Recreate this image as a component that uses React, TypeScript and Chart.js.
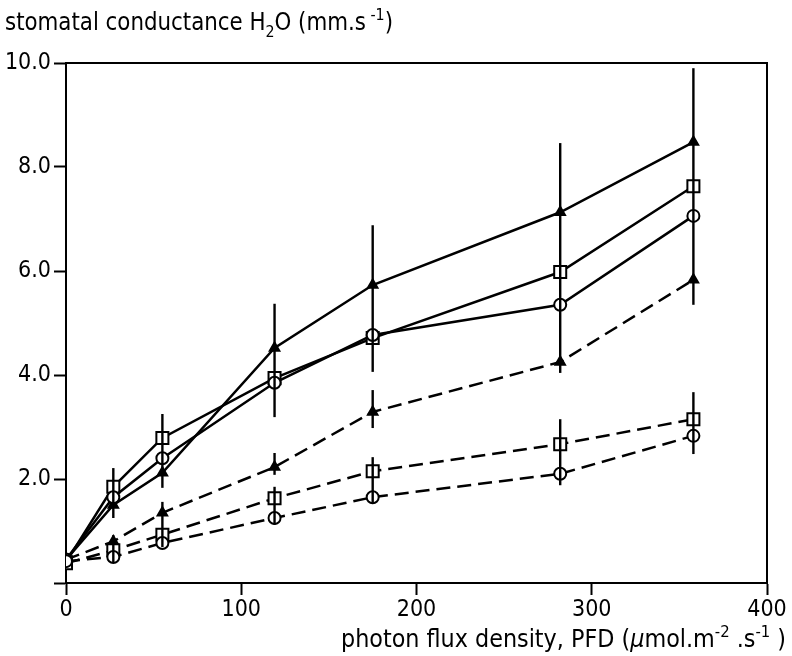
import React, { useEffect, useRef } from "react";
import { Chart, registerables } from "chart.js";

Chart.register(...registerables);

const X_VALUES = [0, 27, 55, 119, 175, 282, 358];
const SOLID_TRIANGLE = [0.45, 1.5, 2.12, 4.52, 5.73, 7.13, 8.48];
const SOLID_SQUARE = [0.4, 1.85, 2.79, 3.94, 4.71, 5.98, 7.63];
const SOLID_CIRCLE = [0.45, 1.65, 2.4, 3.85, 4.77, 5.35, 7.06];
const DASHED_TRIANGLE = [0.45, 0.8, 1.35, 2.23, 3.29, 4.25, 5.83];
const DASHED_SQUARE = [0.38, 0.63, 0.93, 1.63, 2.15, 2.67, 3.15];
const DASHED_CIRCLE = [0.42, 0.5, 0.77, 1.25, 1.65, 2.1, 2.83];

const ERR_X = [27, 27, 55, 55, 119, 119, 119, 175, 175, 175, 282, 282, 358, 358];
const ERR_LOW = [1.25, 0.4, 1.83, 0.69, 3.19, 2.08, 1.12, 4.06, 2.98, 1.54, 4.04, 1.88, 5.35, 2.48];
const ERR_HIGH = [2.21, 0.92, 3.25, 1.56, 5.37, 2.5, 1.85, 6.88, 3.71, 2.42, 8.46, 3.15, 9.9, 3.67];

const X_TICKS = [0, 100, 200, 300, 400];
const Y_TICKS = [0, 2, 4, 6, 8, 10];

const Y_TITLE = [
  { t: "stomatal conductance H", k: "n" },
  { t: "2", k: "sub" },
  { t: "O (mm.s", k: "n" },
  { t: " -1", k: "sup" },
  { t: ")", k: "n" },
];
const X_TITLE = [
  { t: "photon flux density, PFD (", k: "n" },
  { t: "\u00b5", k: "it" },
  { t: "mol.m", k: "n" },
  { t: "-2", k: "sup" },
  { t: " .s", k: "n" },
  { t: "-1", k: "sup" },
  { t: " )", k: "n" },
];

const FONT = "'DejaVu Sans Condensed', 'DejaVu Sans', sans-serif";

function pts(ys: number[]) {
  return X_VALUES.map((x, i) => ({ x, y: ys[i] }));
}

type Part = { t: string; k: string };

function drawRich(ctx: CanvasRenderingContext2D, parts: Part[], x0: number, x1: number, baseline: number, size: number) {
  const small = Math.round(size * 0.68);
  const fontFor = (k: string) =>
    k === "sub" || k === "sup" ? `${small}px ${FONT}` : k === "it" ? `italic ${size}px ${FONT}` : `${size}px ${FONT}`;
  let total = 0;
  for (const p of parts) {
    ctx.font = fontFor(p.k);
    total += ctx.measureText(p.t).width;
  }
  const sx = (x1 - x0) / total;
  ctx.save();
  ctx.translate(x0, baseline);
  ctx.scale(sx, 1);
  ctx.fillStyle = "#000";
  ctx.textBaseline = "alphabetic";
  ctx.textAlign = "left";
  let cx = 0;
  for (const p of parts) {
    ctx.font = fontFor(p.k);
    const dy = p.k === "sub" ? size * 0.28 : p.k === "sup" ? -size * 0.42 : 0;
    ctx.fillText(p.t, cx, dy);
    cx += ctx.measureText(p.t).width;
  }
  ctx.restore();
}

const decorPlugin = {
  id: "decor",
  afterDatasetsDraw(chart: any) {
    const { ctx, scales } = chart;
    const xs = scales.x;
    const ys = scales.y;
    ctx.save();
    ctx.strokeStyle = "#000";
    ctx.lineWidth = 2.4;
    for (let i = 0; i < ERR_X.length; i++) {
      const px = xs.getPixelForValue(ERR_X[i]);
      ctx.beginPath();
      ctx.moveTo(px, ys.getPixelForValue(ERR_LOW[i]));
      ctx.lineTo(px, ys.getPixelForValue(ERR_HIGH[i]));
      ctx.stroke();
    }
    ctx.restore();
  },
  afterDraw(chart: any) {
    const { ctx, chartArea } = chart;
    ctx.save();
    ctx.strokeStyle = "#000";
    ctx.lineWidth = 2;
    ctx.beginPath();
    ctx.moveTo(chartArea.left, chartArea.top);
    ctx.lineTo(chartArea.right, chartArea.top);
    ctx.lineTo(chartArea.right, chartArea.bottom);
    ctx.stroke();
    drawRich(ctx, Y_TITLE, 5, 393, 30, 24);
    drawRich(ctx, X_TITLE, 341, 786, 647, 24);
    ctx.restore();
  },
};

export default function App() {
  const ref = useRef<HTMLCanvasElement | null>(null);
  useEffect(() => {
    if (!ref.current) return;
    const solid = { borderColor: "#000", borderWidth: 2.5, showLine: true, pointBorderColor: "#000", pointBorderWidth: 2 };
    const dashed = { ...solid, borderDash: [14, 7] };
    const chart = new Chart(ref.current, {
      type: "scatter",
      data: {
        datasets: [
          { ...dashed, data: pts(DASHED_CIRCLE), pointStyle: "circle", pointRadius: 6, pointBackgroundColor: "#fff" },
          { ...dashed, data: pts(DASHED_SQUARE), pointStyle: "rect", pointRadius: 8.5, pointBackgroundColor: "#fff" },
          { ...dashed, data: pts(DASHED_TRIANGLE), pointStyle: "triangle", pointRadius: 5.5, pointBackgroundColor: "#000" },
          { ...solid, data: pts(SOLID_CIRCLE), pointStyle: "circle", pointRadius: 6, pointBackgroundColor: "#fff" },
          { ...solid, data: pts(SOLID_SQUARE), pointStyle: "rect", pointRadius: 8.5, pointBackgroundColor: "#fff" },
          { ...solid, data: pts(SOLID_TRIANGLE), pointStyle: "triangle", pointRadius: 5.5, pointBackgroundColor: "#000" },
        ] as any,
      },
      options: {
        animation: false,
        responsive: false,
        devicePixelRatio: 1,
        layout: { padding: { top: 63, right: 25, left: 0, bottom: 0 } },
        plugins: { legend: { display: false }, tooltip: { enabled: false } },
        scales: {
          x: {
            type: "linear",
            min: 0,
            max: 400,
            afterBuildTicks: (s: any) => { s.ticks = X_TICKS.map((v) => ({ value: v })); },
            afterFit: (s: any) => { s.height = 73; },
            border: { display: true, color: "#000", width: 2 },
            grid: { display: true, drawOnChartArea: false, drawTicks: true, tickLength: 12, tickColor: "#000", tickWidth: 2 },
            ticks: { color: "#000", font: { family: FONT, size: 23 }, padding: 1, maxRotation: 0, callback: (v: any) => String(v) },
          },
          y: {
            type: "linear",
            min: 0,
            max: 10,
            afterBuildTicks: (s: any) => { s.ticks = Y_TICKS.map((v) => ({ value: v })); },
            afterFit: (s: any) => { s.width = 66; },
            border: { display: true, color: "#000", width: 2 },
            grid: { display: true, drawOnChartArea: false, drawTicks: true, tickLength: 12, tickColor: "#000", tickWidth: 2 },
            ticks: { color: "#000", font: { family: FONT, size: 23 }, padding: 3, callback: (v: any) => (v === 0 ? "" : Number(v).toFixed(1)) },
          },
        },
      } as any,
      plugins: [decorPlugin],
    });
    return () => chart.destroy();
  }, []);
  return (
    <div style={{ position: "fixed", left: 0, top: 0, width: 792, height: 656, background: "#fff" }}>
      <canvas ref={ref} width={792} height={656} style={{ display: "block", width: 792, height: 656 }} />
    </div>
  );
}
